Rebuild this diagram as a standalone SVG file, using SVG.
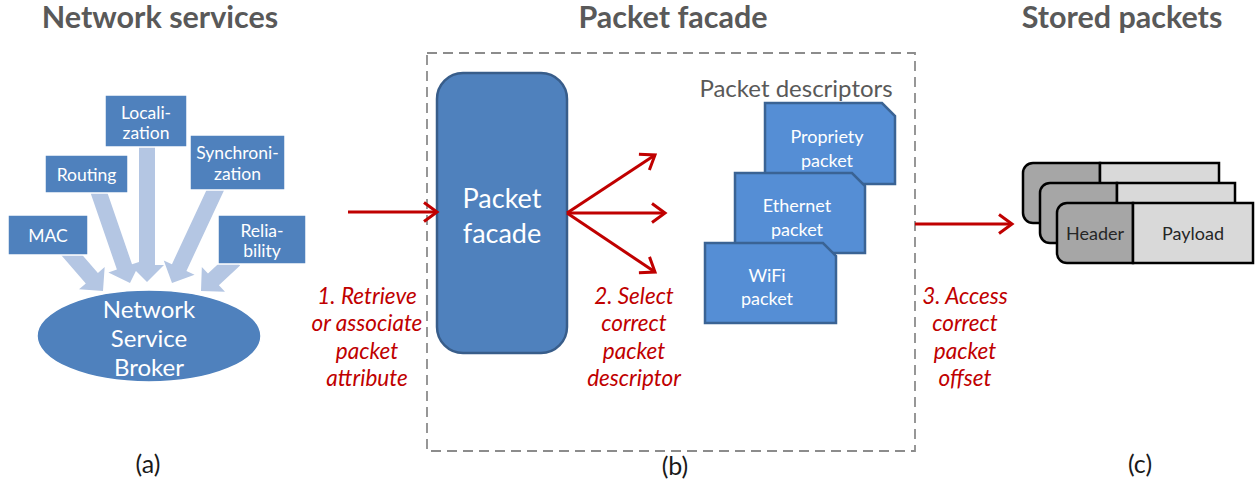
<svg xmlns="http://www.w3.org/2000/svg" width="1258" height="484" viewBox="0 0 1258 484">
<defs>
<style>
.title{font-family:Lato,"Open Sans",sans-serif;font-weight:bold;font-size:30.5px;fill:#595959;text-anchor:middle}
.box{fill:#4F81BD;stroke:#ffffff;stroke-width:1.5}
.bt{font-family:Lato,"Open Sans",sans-serif;font-size:17.5px;fill:#ffffff;text-anchor:middle;dominant-baseline:central}
.dt{font-family:Lato,"Open Sans",sans-serif;font-size:18px;fill:#ffffff;text-anchor:middle;dominant-baseline:central}
.pale{fill:#B4C6E3}
.doc{fill:#558ED5;stroke:#3A6394;stroke-width:2.5}
.red{fill:none;stroke:#C00000;stroke-width:3}
.lbl{font-family:Lato,"Open Sans",sans-serif;font-style:italic;font-size:22.5px;fill:#C00000;text-anchor:middle;dominant-baseline:central}
.cap{font-family:Lato,"Open Sans",sans-serif;font-size:25px;fill:#1a1a1a;text-anchor:middle;dominant-baseline:central}
.hdr{fill:#A6A6A6;stroke:#000;stroke-width:2.5}
.pay{fill:#D9D9D9;stroke:#000;stroke-width:2.5}
.pt{font-family:Lato,"Open Sans",sans-serif;font-size:18px;fill:#262626;text-anchor:middle;dominant-baseline:central}
</style>
<marker id="ah" markerUnits="userSpaceOnUse" markerWidth="22" markerHeight="22" viewBox="0 0 22 22" refX="19" refY="11" orient="auto">
<path d="M6,1.5 L19,11 L6,20.5" fill="none" stroke="#C00000" stroke-width="3"/>
</marker>
</defs>

<text class="title" x="160" y="28">Network services</text>
<text class="title" x="673" y="28">Packet facade</text>
<text class="title" x="1122" y="28">Stored packets</text>

<rect x="427" y="53" width="488" height="398" fill="none" stroke="#8C8C8C" stroke-width="1.8" stroke-dasharray="10 6"/>

<g id="service-arrows">
<polygon class="pale" transform="translate(147,282) rotate(90)" points="0,0 -17,-17 -17,-8 -140,-8 -140,8 -17,8 -17,17"/>
<polygon class="pale" transform="translate(130,283) rotate(71)" points="0,0 -17,-17 -17,-8 -100,-8 -100,8 -17,8 -17,17"/>
<polygon class="pale" transform="translate(103,291) rotate(49)" points="0,0 -17,-17 -17,-8 -55,-8 -55,8 -17,8 -17,17"/>
<polygon class="pale" transform="translate(172,283) rotate(115)" points="0,0 -17,-17 -17,-8 -108,-8 -108,8 -17,8 -17,17"/>
<polygon class="pale" transform="translate(201,291) rotate(137)" points="0,0 -17,-17 -17,-8 -46,-8 -46,8 -17,8 -17,17"/>
</g>

<g id="localization">
<rect class="box" x="105" y="95" width="82" height="52"/>
<text class="bt" x="146" y="112">Locali-</text>
<text class="bt" x="146" y="132">zation</text>
</g>
<g id="routing">
<rect class="box" x="45" y="155" width="83" height="38"/>
<text class="bt" x="86.5" y="174">Routing</text>
</g>
<g id="synchronization">
<rect class="box" x="190" y="135" width="95" height="55"/>
<text class="bt" x="237.5" y="152">Synchroni-</text>
<text class="bt" x="237.5" y="173">zation</text>
</g>
<g id="mac">
<rect class="box" x="8" y="215" width="80" height="40"/>
<text class="bt" x="48" y="235">MAC</text>
</g>
<g id="reliability">
<rect class="box" x="218" y="215" width="88" height="49"/>
<text class="bt" x="262" y="230">Relia-</text>
<text class="bt" x="262" y="250">bility</text>
</g>
<g id="broker">
<ellipse cx="149" cy="336" rx="112" ry="46" fill="#4F81BD" stroke="#ffffff" stroke-width="1.5"/>
<text class="bt" x="149" y="308" style="font-size:24px">Network</text>
<text class="bt" x="149" y="337" style="font-size:24px">Service</text>
<text class="bt" x="149" y="366" style="font-size:24px">Broker</text>
</g>

<g id="packet-facade">
<rect x="437" y="73" width="130" height="280" rx="26" ry="26" fill="#4F81BD" stroke="#385D8A" stroke-width="2.5"/>
<text class="bt" x="502" y="197" style="font-size:27px">Packet</text>
<text class="bt" x="502" y="232" style="font-size:27px">facade</text>
</g>

<g id="packet-descriptors">
<text x="796" y="87" style="font-family:Lato,'Open Sans',sans-serif;font-size:24px;fill:#595959;text-anchor:middle;dominant-baseline:central">Packet descriptors</text>
<g id="propriety">
<path class="doc" d="M765,103 H882 L895,116 V184 H765 Z"/>
<text class="dt" x="827" y="136">Propriety</text>
<text class="dt" x="827" y="160">packet</text>
</g>
<g id="ethernet">
<path class="doc" d="M735,173 H852 L865,186 V253 H735 Z"/>
<text class="dt" x="797" y="205">Ethernet</text>
<text class="dt" x="797" y="229">packet</text>
</g>
<g id="wifi">
<path class="doc" d="M705,243 H823 L836,256 V323 H705 Z"/>
<text class="dt" x="767" y="275">WiFi</text>
<text class="dt" x="767" y="298">packet</text>
</g>
</g>

<g id="stored-packets">
<g id="packet-back">
<path class="hdr" d="M1033,163 H1100 V223 H1033 A10,10 0 0 1 1023,213 V173 A10,10 0 0 1 1033,163 Z"/>
<rect class="pay" x="1100" y="163" width="119" height="60"/>
</g>
<g id="packet-middle">
<path class="hdr" d="M1050,183 H1117 V243 H1050 A10,10 0 0 1 1040,233 V193 A10,10 0 0 1 1050,183 Z"/>
<rect class="pay" x="1117" y="183" width="118" height="60"/>
</g>
<g id="packet-front">
<path class="hdr" d="M1067,203 H1133 V263 H1067 A10,10 0 0 1 1057,253 V213 A10,10 0 0 1 1067,203 Z"/>
<rect class="pay" x="1133" y="203" width="120" height="60"/>
<text class="pt" x="1095" y="233">Header</text>
<text class="pt" x="1193" y="233">Payload</text>
</g>
</g>

<g id="connectors">
<line class="red" x1="348" y1="212" x2="437" y2="212" marker-end="url(#ah)"/>
<line class="red" x1="567" y1="213" x2="655" y2="155" marker-end="url(#ah)"/>
<line class="red" x1="567" y1="213" x2="665" y2="213" marker-end="url(#ah)"/>
<line class="red" x1="567" y1="213" x2="655" y2="272" marker-end="url(#ah)"/>
<line class="red" x1="915" y1="224" x2="1012" y2="224" marker-end="url(#ah)"/>
</g>

<g id="labels">
<text class="lbl" x="367" y="295">1. Retrieve</text>
<text class="lbl" x="367" y="322">or associate</text>
<text class="lbl" x="367" y="350">packet</text>
<text class="lbl" x="367" y="377">attribute</text>
<text class="lbl" x="634" y="295">2. Select</text>
<text class="lbl" x="634" y="322">correct</text>
<text class="lbl" x="634" y="350">packet</text>
<text class="lbl" x="634" y="377">descriptor</text>
<text class="lbl" x="965" y="295">3. Access</text>
<text class="lbl" x="965" y="322">correct</text>
<text class="lbl" x="965" y="350">packet</text>
<text class="lbl" x="965" y="377">offset</text>
<text class="cap" x="148" y="463">(a)</text>
<text class="cap" x="675" y="465">(b)</text>
<text class="cap" x="1140" y="463">(c)</text>
</g>
</svg>
